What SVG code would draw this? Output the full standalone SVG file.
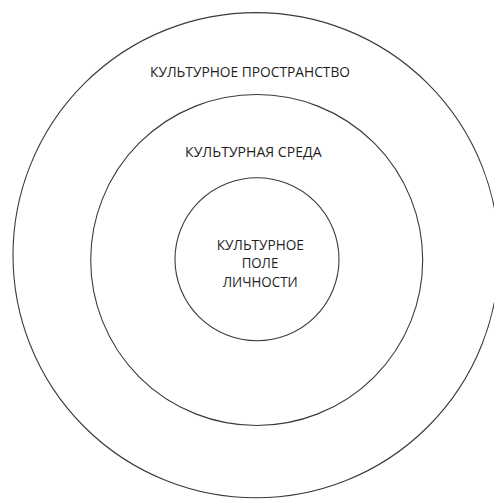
<svg xmlns="http://www.w3.org/2000/svg" width="494" height="499" viewBox="0 0 494 499">
<style>
.ring{fill:none;stroke:#3a3a3a;stroke-width:1.1}
.lbl{font-family:"Open Sans","Noto Sans","Liberation Sans",sans-serif;font-size:14px;fill:#1e1e1e;text-anchor:middle}
</style>
<rect width="494" height="499" fill="#ffffff"/>
<g id="outer">
<ellipse class="ring" cx="256" cy="255.2" rx="243" ry="242.6"/>
<text class="lbl" x="250" y="77" textLength="200" lengthAdjust="spacingAndGlyphs">КУЛЬТУРНОЕ ПРОСТРАНСТВО</text>
</g>
<g id="middle">
<ellipse class="ring" cx="256.7" cy="260" rx="166" ry="165.5"/>
<text class="lbl" x="253.3" y="156.7" textLength="136.5" lengthAdjust="spacingAndGlyphs">КУЛЬТУРНАЯ СРЕДА</text>
</g>
<g id="inner">
<ellipse class="ring" cx="257" cy="259.2" rx="82" ry="81.5"/>
<text class="lbl" x="260.3" y="250" textLength="87.3" lengthAdjust="spacingAndGlyphs">КУЛЬТУРНОЕ</text>
<text class="lbl" x="260" y="268.3" textLength="36.6" lengthAdjust="spacingAndGlyphs">ПОЛЕ</text>
<text class="lbl" x="260.2" y="287.3" textLength="75" lengthAdjust="spacingAndGlyphs">ЛИЧНОСТИ</text>
</g>
<g id="connectors"></g>
</svg>
